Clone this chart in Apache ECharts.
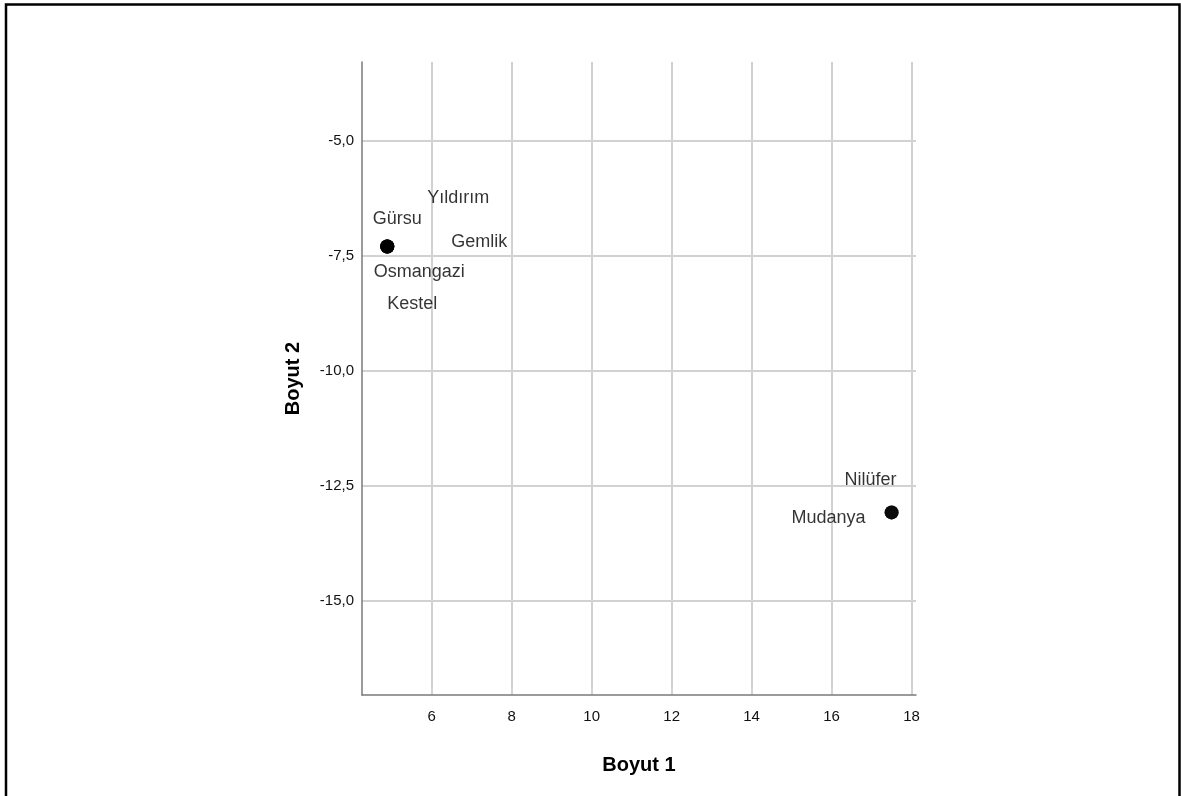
<!DOCTYPE html>
<html>
<head>
<meta charset="utf-8">
<script src="https://cdn.jsdelivr.net/npm/echarts@6/dist/echarts.min.js"></script>
<style>
  html, body { margin: 0; padding: 0; background: #ffffff; }
  #chart { width: 1181px; height: 796px; }
</style>
</head>
<body>
<div id="chart"></div>
<script>
// ---- data ----
const districts = ['Gürsu', 'Yıldırım', 'Gemlik', 'Osmangazi', 'Kestel', 'Nilüfer', 'Mudanya'];
const dimension1 = [4.89, 4.89, 4.89, 4.89, 4.89, 17.50, 17.50];
const dimension2 = [-7.30, -7.30, -7.30, -7.30, -7.30, -13.08, -13.08];
const xAxisTitle = 'Boyut 1';
const yAxisTitle = 'Boyut 2';

// ---- label placement (style) ----
const labelOffsets = {
  'Gürsu': [10, -27],
  'Yıldırım': [71, -48],
  'Gemlik': [92, -4],
  'Osmangazi': [32, 26],
  'Kestel': [25, 58],
  'Nilüfer': [-21, -32],
  'Mudanya': [-63, 6]
};

const fontFamily = '"Liberation Sans", Arial, sans-serif';
const fmt = v => v.toFixed(1).replace('.', ',');

const seriesData = districts.map((name, i) => ({
  name: name,
  value: [dimension1[i], dimension2[i]],
  label: { offset: labelOffsets[name] }
}));

const chart = echarts.init(document.getElementById('chart'), null, { renderer: 'canvas' });
chart.setOption({
  backgroundColor: '#ffffff',
  animation: false,
  grid: { left: 362, top: 62, right: 265, bottom: 101, containLabel: false },
  xAxis: {
    type: 'value',
    min: 4.258, max: 18.11,
    minInterval: 2, maxInterval: 2, splitNumber: 7,
    name: xAxisTitle,
    nameLocation: 'middle',
    nameGap: 60,
    nameTextStyle: { fontFamily, fontSize: 20, fontWeight: 'bold', color: '#000' },
    axisLine: { show: true, onZero: false, lineStyle: { color: '#7a7a7a', width: 1.5 } },
    axisTick: { show: false },
    axisLabel: { fontFamily, fontSize: 15, color: '#111', margin: 14, showMinLabel: false, showMaxLabel: false },
    splitLine: { show: true, showMinLine: false, showMaxLine: false, lineStyle: { color: '#d2d2d2', width: 2 } }
  },
  yAxis: {
    type: 'value',
    min: -17.05, max: -3.289,
    minInterval: 2.5, maxInterval: 2.5, splitNumber: 6,
    name: yAxisTitle,
    nameLocation: 'middle',
    nameGap: 59,
    nameRotate: 90,
    nameTextStyle: { fontFamily, fontSize: 20, fontWeight: 'bold', color: '#000' },
    axisLine: { show: true, onZero: false, lineStyle: { color: '#7a7a7a', width: 1.5 } },
    axisTick: { show: false },
    axisLabel: { fontFamily, fontSize: 15, color: '#111', margin: 8, formatter: fmt, showMinLabel: false, showMaxLabel: false },
    splitLine: { show: true, showMinLine: false, showMaxLine: false, lineStyle: { color: '#d2d2d2', width: 2 } }
  },
  series: [{
    type: 'scatter',
    symbol: 'circle',
    symbolSize: 14,
    itemStyle: { color: '#000000' },
    label: {
      show: true,
      position: 'inside',
      formatter: p => p.name,
      fontFamily,
      fontSize: 18,
      color: '#000',
      textBorderWidth: 0
    },
    data: seriesData
  }],
  graphic: [{
    type: 'polyline',
    shape: { points: [[6, 796], [6, 4.5], [1179.5, 4.5], [1179.5, 796]] },
    style: { stroke: '#000', lineWidth: 2.5, fill: null },
    silent: true
  }]
});
</script>
</body>
</html>
